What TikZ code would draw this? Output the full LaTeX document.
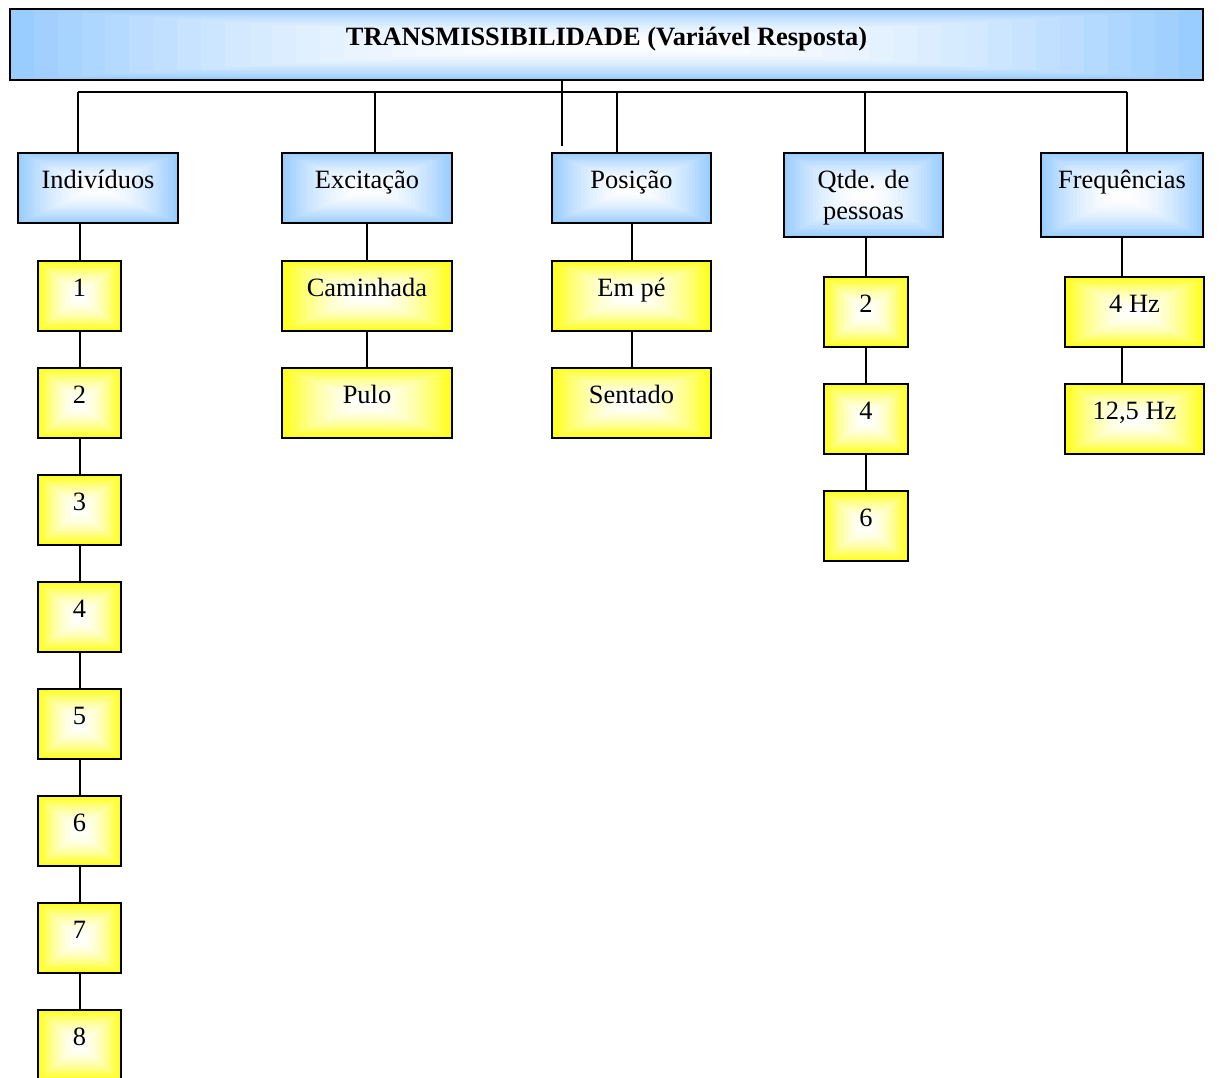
\documentclass[tikz,border=0pt]{standalone}
\usepackage{fontspec}
\setmainfont{Liberation Serif}
\usepackage{xcolor}
\usetikzlibrary{positioning, calc}
\definecolor{catblue}{RGB}{153,204,255}
\definecolor{itemyellow}{RGB}{255,255,26}

\begin{document}
\begin{tikzpicture}[x=0.5pt,y=-0.5pt,node distance=17.6pt,
    font=\fontsize{13.2}{15.5}\selectfont,
    glow/.style={path picture={
        \foreach \s [evaluate=\s as \p using int(100*(\s/25)^1.8)] in {25,...,1}
            \fill[#1!\p!white] ($(path picture bounding box.center)!\s/25!(path picture bounding box.south west)$) rectangle ($(path picture bounding box.center)!\s/25!(path picture bounding box.north east)$);
    }},
    box/.style={draw, line width=0.9pt, inner xsep=2pt, inner ysep=0pt, text height=18pt, text depth=17pt, anchor=north},
    catbox/.style={box, glow=catblue},
    itembox/.style={box, glow=itemyellow},
    link/.style={line width=1pt}]
        \useasboundingbox (0,0) rectangle (1221,1077);

        % Title and categories
        \node (tr) [catbox, minimum width=596.5pt, text height=18.5pt] at (606.5,8) {\textbf{TRANSMISSIBILIDADE (Variável Resposta)}};
        \node (ind) [catbox, minimum width=80pt] at (98,152) {Indivíduos};
        \node (exc) [catbox, minimum width=85pt] at (367,152) {Excitação};
        \node (pos) [catbox, minimum width=79.5pt] at (631.5,152) {Posição};
        \node (qtd) [catbox, minimum width=79.5pt, text height=25.5pt, text depth=16.5pt] at (863.5,152) {\begin{tabular}{@{}c@{}}Qtde. de\\pessoas\end{tabular}};
        \node (frq) [catbox, minimum width=81pt, text depth=24pt] at (1122,152) {Frequências};

        % Levels
        \node (i1) [itembox, minimum width=41.5pt] at (79.5,260) {1};
        \foreach \n [count=\p from 1] in {2,...,8}
            \node (i\n) [itembox, minimum width=41.5pt, below=of i\p] {\n};
        \node (cam) [itembox, minimum width=85pt, below=18pt of exc] {Caminhada};
        \node (pul) [itembox, minimum width=85pt, below=of cam] {Pulo};
        \node (emp) [itembox, minimum width=79.5pt, below=18pt of pos] {Em pé};
        \node (sen) [itembox, minimum width=79.5pt, below=of emp] {Sentado};
        \node (q2) [itembox, minimum width=42pt] at (866,276) {2};
        \node (q4) [itembox, minimum width=42pt, below=of q2] {4};
        \node (q6) [itembox, minimum width=42pt, below=of q4] {6};
        \node (f4) [itembox, minimum width=69.5pt] at (1134.5,276) {4 Hz};
        \node (f12) [itembox, minimum width=69.5pt, below=of f4] {12,5 Hz};

        % Tree lines
        \foreach \x/\n in {78/ind,375/exc,617/pos,865/qtd,1127/frq}{
            \coordinate (s-\n) at (\x,92);
            \draw[link] (s-\n) -- (s-\n |- \n.north);
        }
        \draw[link] (s-ind) -- (s-frq);
        \coordinate (tstem) at (562,146);
        \draw[link] (tstem |- tr.south) -- (tstem);

        \draw[link] (i1.north) -- (i1.north |- ind.south);
        \foreach \n [count=\p from 1] in {2,...,8}
            \draw[link] (i\p.south) -- (i\n.north);
        \draw[link] (cam.north) -- (exc.south);
        \draw[link] (cam) -- (pul);
        \draw[link] (emp) -- (pos);
        \draw[link] (emp) -- (sen);
        \draw[link] (q2.north) -- (q2.north |- qtd.south);
        \draw[link] (q2) -- (q4);
        \draw[link] (q4) -- (q6);
        \draw[link] (f4.north -| frq.south) -- (frq.south);
        \draw[link] (f4.south -| frq.south) -- (f12.north -| frq.south);

    \end{tikzpicture}
\end{document}
